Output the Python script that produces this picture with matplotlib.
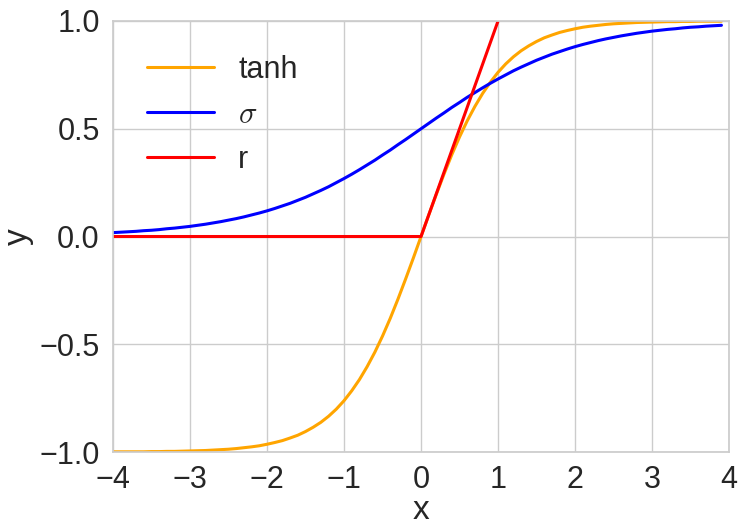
import matplotlib
matplotlib.use('Agg')
import matplotlib.pyplot as plt
import seaborn as sns

# values (x from -4.0 to 3.9)
x_vals = [-4.0, -3.9, -3.8, -3.7, -3.6, -3.5, -3.4, -3.3, -3.2, -3.1,
          -3.0, -2.9, -2.8, -2.7, -2.6, -2.5, -2.4, -2.3, -2.2, -2.1,
          -2.0, -1.9, -1.8, -1.7, -1.6, -1.5, -1.4, -1.3, -1.2, -1.1,
          -1.0, -0.9, -0.8, -0.7, -0.6, -0.5, -0.4, -0.3, -0.2, -0.1,
          0.0, 0.1, 0.2, 0.3, 0.4, 0.5, 0.6, 0.7, 0.8, 0.9,
          1.0, 1.1, 1.2, 1.3, 1.4, 1.5, 1.6, 1.7, 1.8, 1.9,
          2.0, 2.1, 2.2, 2.3, 2.4, 2.5, 2.6, 2.7, 2.8, 2.9,
          3.0, 3.1, 3.2, 3.3, 3.4, 3.5, 3.6, 3.7, 3.8, 3.9]
tanh_vals = [-0.999, -0.999, -0.999, -0.999, -0.999, -0.998, -0.998, -0.997, -0.997, -0.996,
             -0.995, -0.994, -0.993, -0.991, -0.989, -0.987, -0.984, -0.980, -0.976, -0.971,
             -0.964, -0.956, -0.947, -0.935, -0.922, -0.905, -0.885, -0.862, -0.834, -0.801,
             -0.762, -0.716, -0.664, -0.604, -0.537, -0.462, -0.380, -0.291, -0.197, -0.100,
             0.000, 0.100, 0.197, 0.291, 0.380, 0.462, 0.537, 0.604, 0.664, 0.716,
             0.762, 0.801, 0.834, 0.862, 0.885, 0.905, 0.922, 0.935, 0.947, 0.956,
             0.964, 0.971, 0.976, 0.980, 0.984, 0.987, 0.989, 0.991, 0.993, 0.994,
             0.995, 0.996, 0.997, 0.997, 0.998, 0.998, 0.999, 0.999, 0.999, 0.999]
sigma_vals = [0.018, 0.020, 0.022, 0.024, 0.027, 0.029, 0.032, 0.036, 0.039, 0.043,
              0.047, 0.052, 0.057, 0.063, 0.069, 0.076, 0.083, 0.091, 0.100, 0.109,
              0.119, 0.130, 0.142, 0.154, 0.168, 0.182, 0.198, 0.214, 0.231, 0.250,
              0.269, 0.289, 0.310, 0.332, 0.354, 0.378, 0.401, 0.426, 0.450, 0.475,
              0.500, 0.525, 0.550, 0.574, 0.599, 0.622, 0.646, 0.668, 0.690, 0.711,
              0.731, 0.750, 0.769, 0.786, 0.802, 0.818, 0.832, 0.846, 0.858, 0.870,
              0.881, 0.891, 0.900, 0.909, 0.917, 0.924, 0.931, 0.937, 0.943, 0.948,
              0.953, 0.957, 0.961, 0.964, 0.968, 0.971, 0.973, 0.976, 0.978, 0.980]
relu_x = [-4.0, 0.0, 1.0]
relu_vals = [0.0, 0.0, 1.0]

sns.set_theme(style='whitegrid', font_scale=2)
plt.rcParams['font.family'] = ['Liberation Sans', 'DejaVu Sans']
plt.rcParams['mathtext.fontset'] = 'cm'

fig, ax = plt.subplots(figsize=(7.38, 5.25), dpi=100)
fig.subplots_adjust(left=0.153, right=0.988, top=0.96, bottom=0.139)

ax.plot(x_vals, tanh_vals, color='orange', lw=2.2, label='tanh')
ax.plot(x_vals, sigma_vals, color='blue', lw=2.2, label=r'$\sigma$')
ax.plot(relu_x, relu_vals, color='red', lw=2.2, label='r')

ax.set_xlim(-4, 4)
ax.set_ylim(-1, 1)
ax.set_xticks(range(-4, 5))
ax.set_yticks([-1.0, -0.5, 0.0, 0.5, 1.0])
ax.set_xlabel('x', labelpad=0)
ax.set_ylabel('y')
ax.legend(loc='upper left', frameon=False, borderaxespad=0.7, handlelength=2.2)

fig.savefig('out.png', dpi=100)
